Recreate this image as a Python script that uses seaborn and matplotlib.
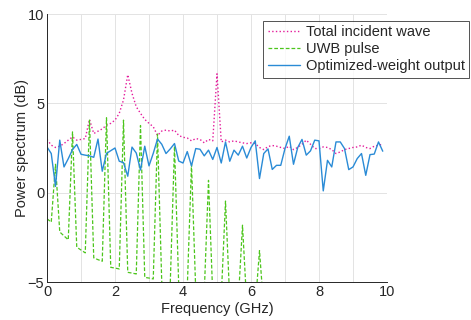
import numpy as np
import matplotlib
matplotlib.use("Agg")
import matplotlib.pyplot as plt
import seaborn as sns

# -------------------------------
# Data (0.125 GHz steps)
# -------------------------------
freq = [i * 0.125 for i in range(80)]

total_incident = [
    2.98, 2.66, 2.53, 2.60, 2.75, 2.94, 3.12, 2.94, 2.98, 3.03,
    4.10, 3.31, 3.44, 3.57, 3.78, 3.88, 4.06, 4.44, 5.19, 6.60,
    5.56, 4.81, 4.44, 4.10, 3.88, 3.69, 3.20, 3.45, 3.50, 3.45,
    3.50, 3.20, 3.10, 3.06, 2.90, 3.03, 2.98, 2.79, 2.98, 2.90,
    6.65, 2.84, 2.94, 2.84, 2.90, 2.84, 2.79, 2.75, 2.79, 2.75,
    2.53, 2.41, 2.58, 2.64, 2.60, 2.53, 2.47, 2.60, 2.41, 2.53,
    2.71, 2.94, 2.71, 2.47, 2.47, 2.56, 2.53, 2.41, 2.19, 2.28,
    2.41, 2.47, 2.53, 2.56, 2.66, 2.53, 2.47, 2.60, 2.66, 2.71,
]

uwb_pulse = [
    -1.46, -1.65, 1.59, -2.20, -2.42, -2.64, 3.40, -3.05, -3.21, -3.37,
    4.06, -3.65, -3.75, -3.84, 4.19, -4.18, -4.22, -4.27, 4.06, -4.46,
    -4.50, -4.55, 3.76, -4.74, -4.78, -4.83, 3.28, -5.02, -5.06, -5.10,
    2.60, -5.25, -5.30, -5.35, 1.59, -5.50, -5.55, -5.60, 0.69, -5.75,
    -5.80, -5.85, -0.47, -6.00, -6.05, -6.10, -1.82, -6.25, -6.30, -6.35,
    -3.24, -6.50,
]

optimized = [
    2.56, 2.19, 0.35, 2.94, 1.44, 1.90, 2.41, 2.70, 2.15, 2.10,
    2.06, 1.98, 3.00, 1.20, 2.20, 2.35, 2.50, 1.76, 1.68, 0.92,
    2.55, 2.22, 1.27, 2.60, 1.50, 2.20, 3.00, 2.71, 2.19, 2.45,
    2.75, 1.77, 1.66, 2.30, 1.50, 2.47, 2.43, 2.06, 2.38, 1.86,
    2.53, 1.66, 2.84, 1.76, 2.38, 2.10, 2.60, 1.94, 2.53, 2.90,
    0.79, 2.19, 2.45, 1.30, 1.53, 1.53, 2.47, 3.16, 1.59, 2.53,
    2.98, 2.10, 2.34, 2.94, 2.90, 0.10, 1.81, 1.44, 2.84, 2.84,
    2.47, 1.29, 1.44, 1.91, 2.19, 0.97, 2.13, 2.16, 2.84, 2.32,
]

x_ticks = list(range(0, 11))
x_ticklabels = [str(t) if t % 2 == 0 else "" for t in x_ticks]
y_ticks = [-5, 0, 5, 10]

# -------------------------------
# Plot
# -------------------------------
sns.set_style("white")
plt.rcParams["font.family"] = ["Liberation Sans", "DejaVu Sans"]
plt.rcParams["font.size"] = 10.5

fig = plt.figure(figsize=(4.71, 3.2), dpi=100)
ax = fig.add_axes([47 / 471, 1 - 282 / 320, 340 / 471, 268 / 320])

sns.lineplot(x=freq, y=total_incident, ax=ax, color="#e41b9b", linestyle=":",
             linewidth=1.0, label="Total incident wave")
sns.lineplot(x=freq[:len(uwb_pulse)], y=uwb_pulse, ax=ax, color="#4cc51c",
             linestyle=(0, (3, 1.6)), linewidth=0.9, label="UWB pulse")
sns.lineplot(x=freq, y=optimized, ax=ax, color="#2a8bd6", linestyle="-",
             linewidth=1.0, label="Optimized-weight output")

ax.set_xlim(0, 10)
ax.set_ylim(-5, 10)
ax.set_xticks(x_ticks)
ax.set_xticklabels(x_ticklabels)
ax.set_yticks(y_ticks)
ax.grid(True, color="#e3e3e3", linewidth=0.7)
ax.set_axisbelow(True)

for side in ["top", "right"]:
    ax.spines[side].set_visible(False)
for side in ["left", "bottom"]:
    ax.spines[side].set_color("#262626")
    ax.spines[side].set_linewidth(0.7)

ax.tick_params(direction="in", length=4, width=0.7, colors="#262626",
               labelsize=10.5, pad=2)
ax.set_xlabel("Frequency (GHz)", fontsize=10.5, color="#262626", labelpad=2)
ax.set_ylabel("Power spectrum (dB)", fontsize=10.5, color="#262626", labelpad=-1)

leg = ax.legend(loc="upper right", bbox_to_anchor=(469 / 471, 1 - 21 / 320),
                bbox_transform=fig.transFigure, borderaxespad=0,
                frameon=True, fancybox=False, fontsize=10.5,
                handlelength=2.2, handletextpad=0.4, labelspacing=0.2,
                borderpad=0.3)
leg.get_frame().set_edgecolor("#262626")
leg.get_frame().set_linewidth(0.7)

plt.savefig("out.png", dpi=100)
